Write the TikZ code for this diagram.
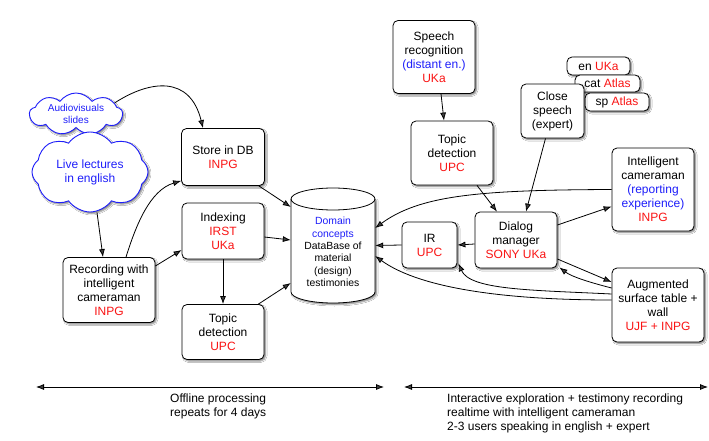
\documentclass[tikz,border=0pt]{standalone}
\usepackage{fontspec}
\setmainfont{Liberation Sans}
\usetikzlibrary{shapes.symbols,arrows.meta,shadows.blur}
\definecolor{rd}{RGB}{250,20,20}
\definecolor{bl}{RGB}{30,30,250}
\newcommand{\redt}[1]{\textcolor{rd}{#1}}
\newcommand{\bluet}[1]{\textcolor{bl}{#1}}
\begin{document}
\begin{tikzpicture}[x=1pt,y=-1pt,
  shad/.style={blur shadow={shadow xshift=1.5pt, shadow yshift=-1.5pt, shadow blur radius=1.5pt, shadow opacity=50}},
  box/.style={draw, rounded corners=5pt, fill=white, line width=0.8pt, align=center, inner sep=0pt,
    font=\fontsize{12}{14}\selectfont, shad},
  cloudn/.style={cloud, cloud ignores aspect, draw=bl, line width=0.9pt, fill=white, text=bl, align=center, inner sep=0pt, cloud puff arc=110, shad},
  arr/.style={-{Latex[length=8pt,width=6pt]}, line width=0.8pt},
  barr/.style={{Latex[length=8pt,width=6pt]}-{Latex[length=8pt,width=6pt]}, line width=0.8pt},
  plain/.style={align=left, inner sep=0pt, font=\fontsize{12}{14}\selectfont}]
\useasboundingbox[fill=white] (0,0) rectangle (709,441);

% clouds
\node[cloudn, cloud puffs=9, minimum width=93pt, minimum height=42pt, font=\fontsize{10}{12}\selectfont] (audio) at (76,114) {Audiovisuals\\slides};
\node[cloudn, cloud puffs=8, minimum width=116pt, minimum height=80pt, font=\fontsize{12}{14}\selectfont] (live) at (90,172) {Live lectures\\in english};

% left boxes
\node[box, minimum width=83pt, minimum height=57pt] (store) at (223,157) {Store in DB\\\redt{INPG}};
\node[box, minimum width=82pt, minimum height=56pt] (index) at (223,231) {Indexing\\\redt{IRST}\\\redt{UKa}};
\node[box, minimum width=92pt, minimum height=65pt] (rec) at (109,290) {Recording with\\intelligent\\cameraman\\\redt{INPG}};
\node[box, minimum width=82pt, minimum height=55pt] (topicL) at (223,332) {Topic\\detection\\\redt{UPC}};

% database cylinder
\node[minimum width=84pt, minimum height=115pt, inner sep=0pt] (db) at (333,245.5) {};
\path[fill=white, shad] (291,199) -- (291,292) arc[start angle=180, end angle=360, x radius=42pt, y radius=11pt] -- (375,199) arc[start angle=0, end angle=-180, x radius=42pt, y radius=11pt] -- cycle;
\fill[white] (333,199) ellipse[x radius=42pt, y radius=11pt];
\draw[line width=0.8pt] (291,199) -- (291,292) arc[start angle=180, end angle=360, x radius=42pt, y radius=11pt] -- (375,199);
\draw[line width=0.8pt] (333,199) ellipse[x radius=42pt, y radius=11pt];
\node[align=center, inner sep=0pt, font=\fontsize{10.4}{12.3}\selectfont] (dbtext) at (333,252) {\bluet{Domain}\\\bluet{concepts}\\DataBase of\\material\\(design)\\testimonies};

% right boxes
\node[box, minimum width=82pt, minimum height=73pt] (speech) at (434,57) {Speech\\recognition\\\bluet{(distant en.)}\\\redt{UKa}};
\node[box, minimum width=82pt, minimum height=64pt] (topicR) at (452,153) {Topic\\detection\\\redt{UPC}};
\node[box, minimum width=63pt, minimum height=18pt] (en) at (598.5,66) {en \redt{UKa}};
\node[box, minimum width=65pt, minimum height=17pt] (cat) at (607.5,83.5) {cat \redt{Atlas}};
\node[box, minimum width=64pt, minimum height=18pt] (sp) at (617,102) {sp \redt{Atlas}};
\node[box, minimum width=63pt, minimum height=54pt] (close) at (552.5,111) {Close\\speech\\(expert)};
\node[box, minimum width=82pt, minimum height=83pt] (cam) at (653,189.5) {Intelligent\\cameraman\\\bluet{(reporting}\\\bluet{experience)}\\\redt{INPG}};
\node[box, minimum width=82pt, minimum height=56pt] (dialog) at (516,240) {Dialog\\manager\\\redt{SONY UKa}};
\node[box, minimum width=55pt, minimum height=46pt] (ir) at (429.5,245) {IR\\\redt{UPC}};
\node[box, minimum width=92pt, minimum height=74pt] (aug) at (658,305) {Augmented\\surface table +\\wall\\\redt{UJF + INPG}};

% connectors left
\draw[arr] (audio.16) .. controls (150,80) and (190,75) .. ([xshift=-20pt]store.north);
\draw[arr] ([xshift=7pt]live.south) -- ([xshift=-6pt]rec.north);
\draw[arr] ([xshift=17pt]rec.north) .. controls (136,225) and (150,190) .. ([yshift=5pt]store.south west);
\draw[arr] ([yshift=24pt]rec.east) -- ([yshift=-19pt]index.west);
\draw[arr] ([xshift=-6pt]store.south east) -- ([yshift=38.5pt]db.west);
\draw[arr] ([yshift=-6pt]index.east) -- ([yshift=5.5pt]db.west);
\draw[arr] (index.south) -- (topicL.north);
\draw[arr] ([xshift=-6pt]topicL.north east) -- ([yshift=-37.5pt]db.west);

% connectors right
\draw[arr] ([xshift=7pt]speech.south) -- ([xshift=-8pt]topicR.north);
\draw[arr] ([xshift=25pt]topicR.south) -- ([xshift=-19pt]dialog.north);
\draw[arr] ([xshift=-7pt]close.south) -- ([xshift=10pt]dialog.north);
\draw[arr] ([yshift=15pt]dialog.east) -- ([yshift=-17pt]cam.west);
\draw[arr] (cam.west) .. controls (480,190) and (420,195) .. ([yshift=17.5pt]db.east);
\draw[arr] ([yshift=-4pt]dialog.west) -- ([yshift=0pt]ir.east);
\draw[arr] (ir.west) -- (db.east);
\draw[arr] ([yshift=-19pt]dialog.east) -- ([yshift=23pt]aug.west);
\draw[arr] ([yshift=17pt]aug.west) .. controls (592,283) and (572,277) .. ([xshift=2pt,yshift=1pt]dialog.south east);
\draw[arr] ([yshift=11pt]aug.west) .. controls (530,290) and (470,290) .. ([xshift=1pt,yshift=5pt]ir.south east);
\draw[arr] ([yshift=5pt]aug.west) .. controls (490,300) and (415,285) .. ([yshift=-10.5pt]db.east);

% bottom timeline
\coordinate (l1) at (36,387);
\coordinate (l2) at (384,387);
\coordinate (r1) at (404,387);
\coordinate (r2) at (708,387);
\draw[barr] (l1) -- (l2);
\draw[barr] (r1) -- (r2);
\node[plain, anchor=west] (offt) at (170,406) {Offline processing\\repeats for 4 days};
\node[plain, anchor=west] (intt) at (447,413) {Interactive exploration + testimony recording\\realtime with intelligent cameraman\\2-3 users speaking in english + expert};
\end{tikzpicture}
\end{document}
